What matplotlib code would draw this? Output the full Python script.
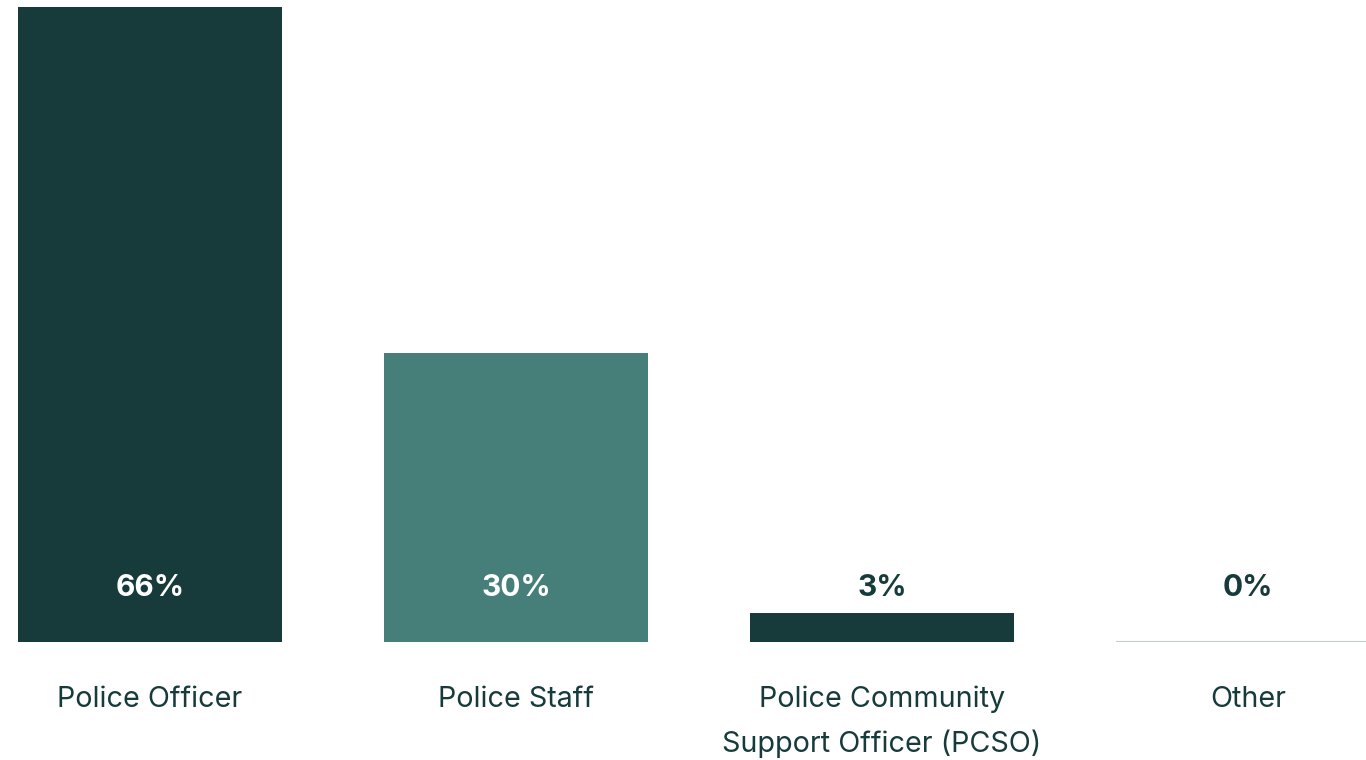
import matplotlib
matplotlib.use("Agg")
import matplotlib.pyplot as plt

plt.rcParams["font.family"] = ["Inter", "DejaVu Sans"]

# Data
categories = ["Police Officer", "Police Staff",
              "Police Community\nSupport Officer (PCSO)", "Other"]
values = [66, 30, 3, 0]
value_labels = ["66%", "30%", "3%", "0%"]

DARK = "#173b3b"
TEAL = "#467f7a"
bar_colors = [DARK, TEAL, DARK, DARK]
label_colors = ["white", "white", DARK, DARK]

fig = plt.figure(figsize=(13.66, 7.6), dpi=100)
ax = fig.add_axes([0, 1 - 642 / 760, 1, 642 / 760])

x = list(range(len(categories)))
width = 264 / 366
bars = ax.bar(x, values, width=width, color=bar_colors, linewidth=0)

# zero-value bar shows as a thin baseline
for xi, v in zip(x, values):
    if v == 0:
        ax.hlines(0, xi - width / 2, xi + width / 2, color="#c3cecc", lw=1.5)

label_y = 66 * 54 / 635
for xi, lab, c in zip(x, value_labels, label_colors):
    ax.text(xi, label_y, lab, ha="center", va="center", color=c,
            fontsize=21.5, fontweight="bold")

ax.set_xlim(-150 / 366, (1366 - 150) / 366)
ax.set_ylim(0, 66 * 642 / 635)
ax.set_xticks(x)
ax.set_xticklabels(categories, fontsize=20.7, color=DARK, linespacing=1.72)
ax.tick_params(axis="x", length=0, pad=31.5)
ax.set_yticks([])
for s in ax.spines.values():
    s.set_visible(False)
ax.patch.set_visible(False)

fig.savefig("out.png", dpi=100)
